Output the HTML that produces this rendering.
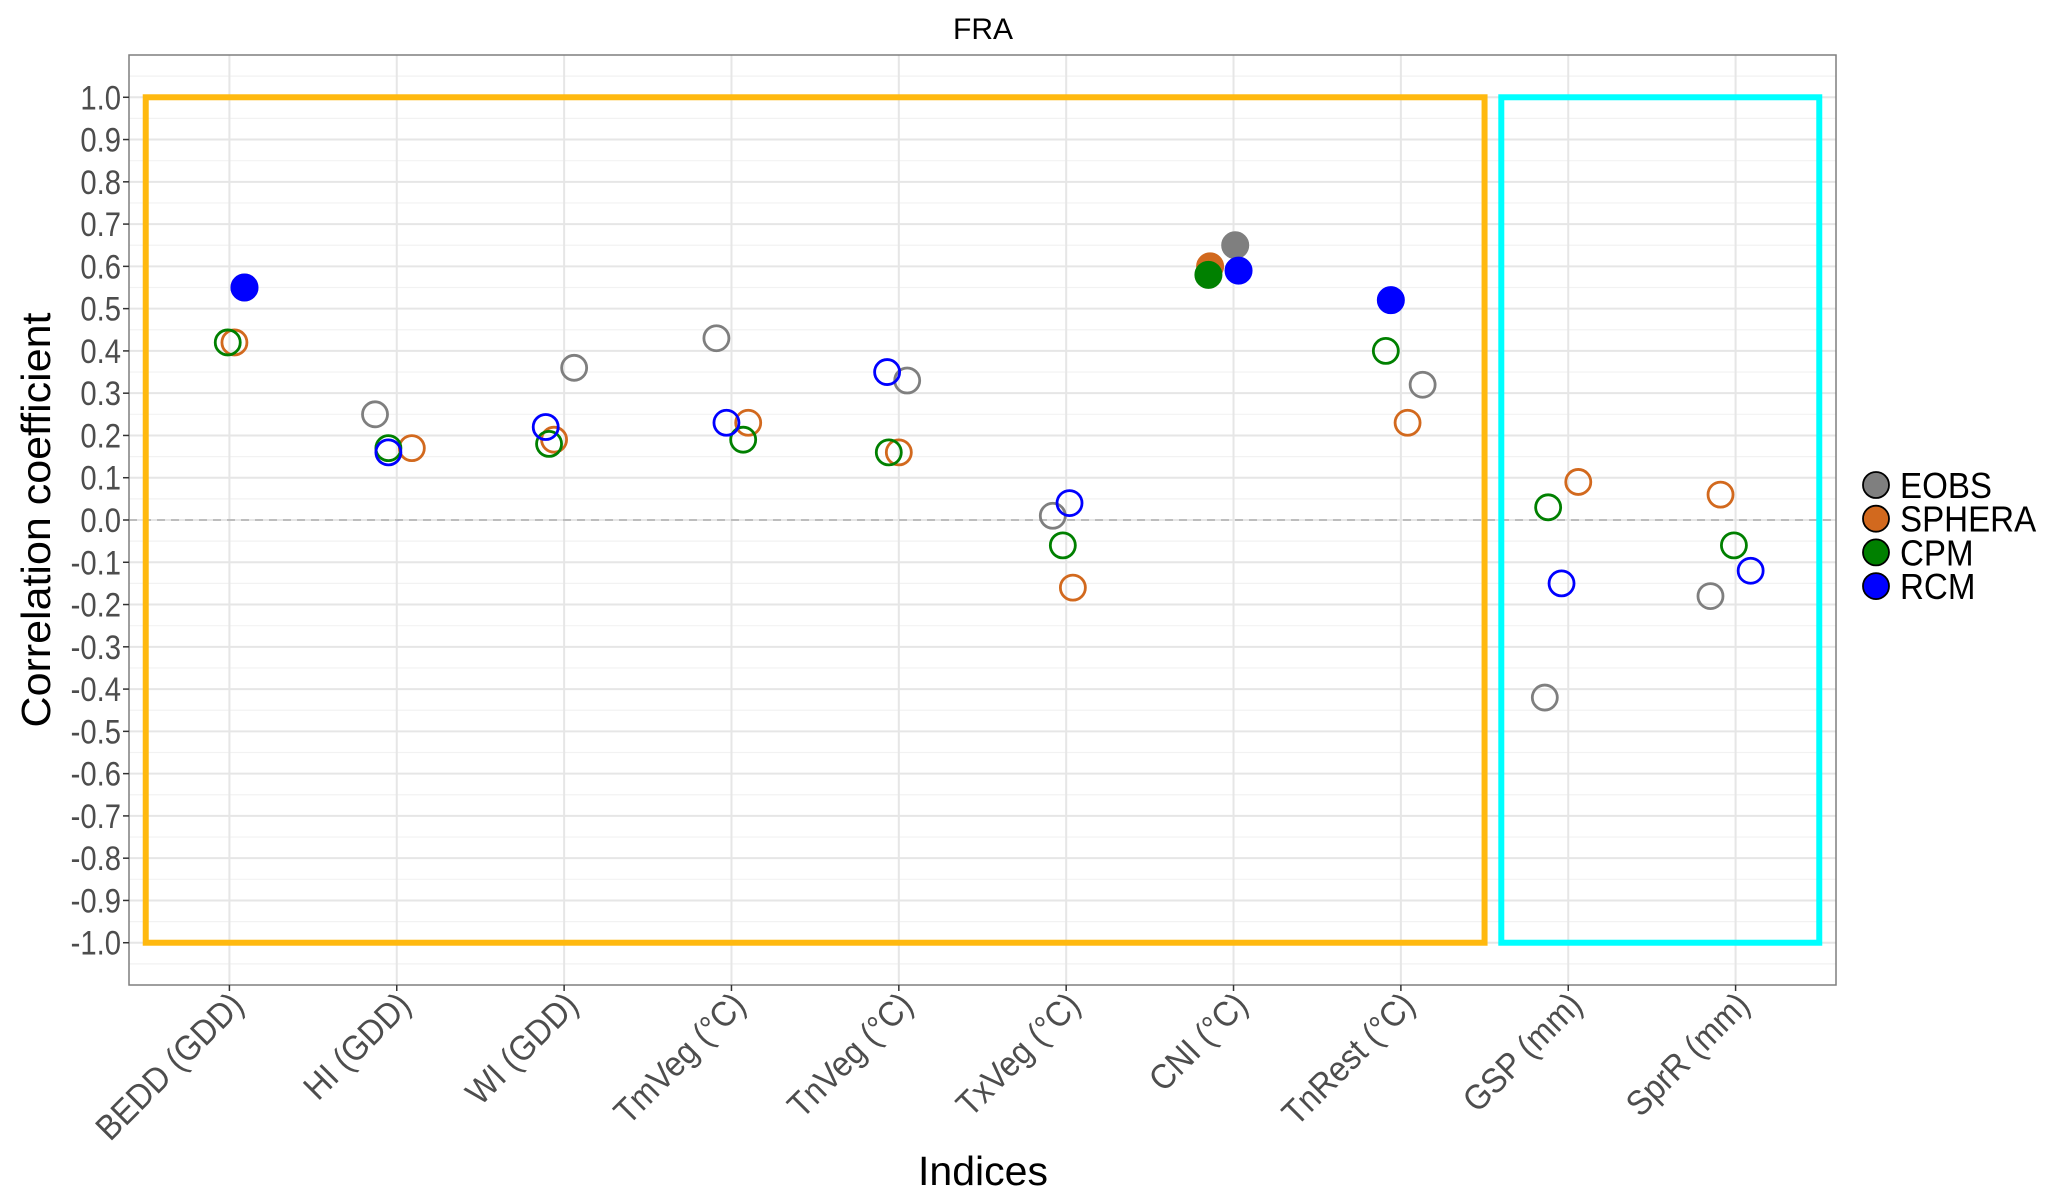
<!DOCTYPE html>
<html><head><meta charset="utf-8"><style>
html,body{margin:0;padding:0;background:#fff;}
svg{display:block;font-family:"Liberation Sans",Arial,sans-serif;}
</style></head><body>
<svg id="chart" width="2067" height="1203" viewBox="0 0 2067 1203">
<text x="983" y="39" font-size="30" text-anchor="middle" fill="#000">FRA</text>
<g id="grid"></g>
<g id="boxes"></g>
<g id="points"></g>
<g id="axes"></g>
<text transform="translate(50,520) rotate(-90) scale(1,0.95)" font-size="43" text-anchor="middle" fill="#000">Correlation coefficient</text>
<text x="983" y="1185" font-size="41" text-anchor="middle" fill="#000">Indices</text>
<g id="legend"></g>
</svg>
<script>
const categories=["BEDD (GDD)","HI (GDD)","WI (GDD)","TmVeg (°C)","TnVeg (°C)","TxVeg (°C)","CNI (°C)","TnRest (°C)","GSP (mm)","SprR (mm)"];
const seriesNames=["EOBS","SPHERA","CPM","RCM"];
const seriesColors=["#7f7f7f","#d2691e","#008000","#0000ff"];
const eobsVals=[0.55,0.25,0.36,0.43,0.33,0.01,0.65,0.32,-0.42,-0.18];
const spheraVals=[0.42,0.17,0.19,0.23,0.16,-0.16,0.60,0.23,0.09,0.06];
const cpmVals=[0.42,0.17,0.18,0.19,0.16,-0.06,0.58,0.40,0.03,-0.06];
const rcmVals=[0.55,0.16,0.22,0.23,0.35,0.04,0.59,0.52,-0.15,-0.12];
const eobsJit=[0.09,-0.13,0.06,-0.09,0.05,-0.08,0.01,0.13,-0.14,-0.15];
const spheraJit=[0.03,0.09,-0.06,0.10,0.00,0.04,-0.14,0.04,0.06,-0.09];
const cpmJit=[-0.01,-0.05,-0.09,0.07,-0.06,-0.02,-0.15,-0.09,-0.12,-0.01];
const rcmJit=[0.09,-0.05,-0.11,-0.03,-0.07,0.02,0.03,-0.06,-0.04,0.09];
const eobsSig=[1,0,0,0,0,0,1,0,0,0];
const spheraSig=[0,0,0,0,0,0,1,0,0,0];
const cpmSig=[0,0,0,0,0,0,1,0,0,0];
const rcmSig=[1,0,0,0,0,0,1,1,0,0];
const yTicks=[-1.0,-0.9,-0.8,-0.7,-0.6,-0.5,-0.4,-0.3,-0.2,-0.1,0.0,0.1,0.2,0.3,0.4,0.5,0.6,0.7,0.8,0.9,1.0];

const NS="http://www.w3.org/2000/svg";
const PL=129,PR=1836,PT=55,PB=985;
const X0=0.4,X1=10.6,Y0=-1.1,Y1=1.1;
function xs(v){return PL+(v-X0)/(X1-X0)*(PR-PL);}
function ys(v){return PB-(v-Y0)/(Y1-Y0)*(PB-PT);}
function mk(tag,attrs,parent){const e=document.createElementNS(NS,tag);for(const k in attrs)e.setAttribute(k,attrs[k]);parent.appendChild(e);return e;}
const grid=document.getElementById('grid'),boxes=document.getElementById('boxes'),pts=document.getElementById('points'),axes=document.getElementById('axes'),leg=document.getElementById('legend');

let bg=mk('rect',{x:PL,y:PT,width:PR-PL,height:PB-PT,fill:'#fff'},grid);


for(let v=-1.05;v<1.1;v+=0.1){
  let l=mk('line',{x1:PL,x2:PR,y1:ys(v),y2:ys(v),stroke:'#f2f2f2','stroke-width':1.2},grid);
  
  
}
yTicks.forEach(t=>{
  let l=mk('line',{x1:PL,x2:PR,y1:ys(t),y2:ys(t),stroke:'#e6e6e6','stroke-width':2},grid);
  
  
});
categories.forEach((c,i)=>{
  let l=mk('line',{x1:xs(i+1),x2:xs(i+1),y1:PT,y2:PB,stroke:'#e6e6e6','stroke-width':2},grid);
  
  
});
let zl=mk('line',{x1:PL,x2:PR,y1:ys(0),y2:ys(0),stroke:'#bdbdbd','stroke-width':2,'stroke-dasharray':'8,6'},grid);



let b1=mk('rect',{x:xs(0.5),y:ys(1),width:xs(8.5)-xs(0.5),height:ys(-1)-ys(1),fill:'none',stroke:'#ffb90f','stroke-width':6},boxes);


let b2=mk('rect',{x:xs(8.6),y:ys(1),width:xs(10.5)-xs(8.6),height:ys(-1)-ys(1),fill:'none',stroke:'#00ffff','stroke-width':6},boxes);



const vals=[eobsVals,spheraVals,cpmVals,rcmVals],jits=[eobsJit,spheraJit,cpmJit,rcmJit],sigs=[eobsSig,spheraSig,cpmSig,rcmSig];
vals.forEach((arr,s)=>{
  arr.forEach((v,i)=>{
    const sig=sigs[s][i];
    let c=mk('circle',{cx:xs(i+1+jits[s][i]),cy:ys(v),r:sig?13.5:12.5,fill:sig?seriesColors[s]:'none',stroke:seriesColors[s],'stroke-width':sig?1:2.8},pts);
    
    
  });
});

let bord=mk('rect',{x:PL,y:PT,width:PR-PL,height:PB-PT,fill:'none',stroke:'#7f7f7f','stroke-width':1.5},axes);


yTicks.forEach(t=>{
  let tk=mk('line',{x1:PL-6,x2:PL,y1:ys(t),y2:ys(t),stroke:'#333','stroke-width':1.5},axes);
  
  
  let tx=mk('text',{transform:`translate(${PL-8},${ys(t)+12}) scale(0.86,1)`,'font-size':34,'text-anchor':'end',fill:'#4d4d4d'},axes);
  tx.textContent=t.toFixed(1);
  
  
});
categories.forEach((c,i)=>{
  const x=xs(i+1);
  let tk=mk('line',{x1:x,x2:x,y1:PB,y2:PB+6,stroke:'#333','stroke-width':1.5},axes);
  
  
  let tx=mk('text',{transform:`translate(${x+16},${PB+22}) rotate(-45) scale(0.92,1)`,'font-size':35,'text-anchor':'end',fill:'#4d4d4d'},axes);
  tx.textContent=c;
  
  
});

seriesNames.forEach((n,s)=>{
  const y=485+s*33.7;
  let c=mk('circle',{cx:1876,cy:y,r:13,fill:seriesColors[s],stroke:'#000','stroke-width':1.8},leg);
  
  
  let t=mk('text',{transform:`translate(1900,${y+13}) scale(0.92,1)`,'font-size':36,fill:'#000'},leg);
  t.textContent=n;
  
  
});
</script>
</body></html>
